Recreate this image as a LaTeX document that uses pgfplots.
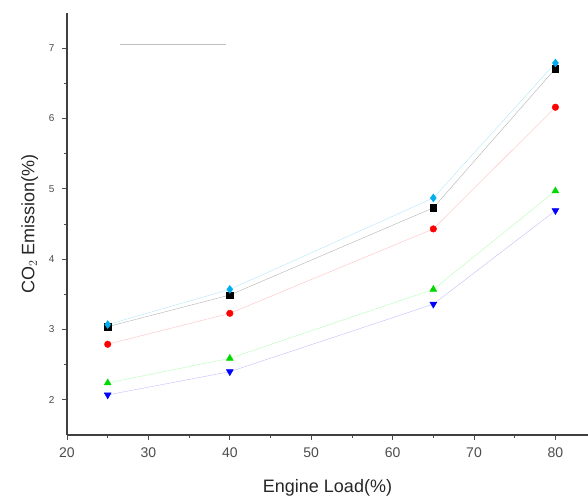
\documentclass[border=0pt]{standalone}
\usepackage{pgfplots}
\pgfplotsset{compat=1.18}
\usepackage{fontspec}
\setmainfont{Liberation Sans}
\usetikzlibrary{calc}
\begin{document}
\begin{tikzpicture}
\begin{axis}[
  scale only axis,
  width=521pt, height=422pt,
  xmin=20, xmax=84, ymin=1.5, ymax=7.5,
  axis x line*=bottom, axis y line*=left,
  axis line style={line width=1.2pt, black!75},
  tick align=outside,
  xtick={20,30,40,50,60,70,80},
  ytick={2,3,4,5,6,7},
  minor x tick num=1, minor y tick num=1,
  major tick length=5pt, minor tick length=3pt,
  tick style={black!70, line width=0.8pt},
  /pgf/number format/assume math mode=true,
  xticklabel style={font=\fontsize{14}{14}\selectfont, text=black!70, yshift=-4pt},
  yticklabel style={font=\fontsize{10}{10}\selectfont, text=black!70, xshift=-4pt},
  xlabel={Engine Load(\%)},
  ylabel={CO$_2$ Emission(\%)},
  xlabel style={font=\fontsize{18}{18}\selectfont, text=black!85, yshift=-15pt},
  ylabel style={font=\fontsize{18}{18}\selectfont, text=black!85, yshift=4pt},
  clip=false,
]
\addplot[black!30, thin, mark=square*, mark size=3.2pt, mark options={solid, black}] coordinates {(25,3.04) (40,3.49) (65,4.73) (80,6.71)};
\addplot[cyan!30, thin, mark=diamond*, mark size=4pt, mark options={solid, cyan}] coordinates {(25,3.07) (40,3.57) (65,4.87) (80,6.79)};
\addplot[red!25, thin, mark=*, mark size=3.3pt, mark options={solid, red}] coordinates {(25,2.79) (40,3.23) (65,4.43) (80,6.16)};
\addplot[green!30, thin, mark=triangle*, mark size=4pt, mark options={solid, green!85!black}] coordinates {(25,2.24) (40,2.59) (65,3.57) (80,4.97)};
\addplot[blue!25, thin, mark=triangle*, mark size=4pt, mark options={solid, blue, rotate=180}] coordinates {(25,2.07) (40,2.40) (65,3.36) (80,4.69)};
\draw[black!25, thin] (axis cs:26.5,7.05) -- (axis cs:39.5,7.05);
\end{axis}
\pgfresetboundingbox
\path ($(current axis.south west)+(-67pt,-61pt)$) rectangle ($(current axis.north east)+(0pt,13pt)$);
\end{tikzpicture}
\end{document}
